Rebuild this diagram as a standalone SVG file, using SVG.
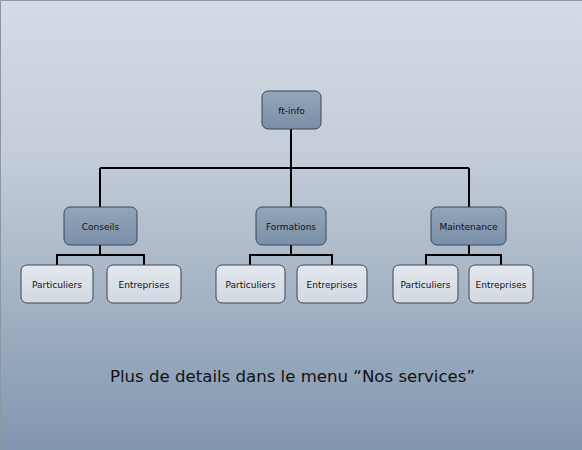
<svg xmlns="http://www.w3.org/2000/svg" width="582" height="450" viewBox="0 0 582 450">
<defs>
<linearGradient id="bg" x1="0" y1="0" x2="0" y2="1">
<stop offset="0" stop-color="#d4dbe4"/>
<stop offset="0.35" stop-color="#c3ccd8"/>
<stop offset="1" stop-color="#8196af"/>
</linearGradient>
<linearGradient id="dark" x1="0" y1="0" x2="0" y2="1">
<stop offset="0" stop-color="#93a5b9"/>
<stop offset="1" stop-color="#7a8fa8"/>
</linearGradient>
<linearGradient id="light" x1="0" y1="0" x2="0" y2="1">
<stop offset="0" stop-color="#e4e8ee"/>
<stop offset="1" stop-color="#d2d8e1"/>
</linearGradient>
</defs>
<style>
.d{fill:url(#dark);stroke:#3b4652;stroke-width:1}
.l{fill:url(#light);stroke:#3b4652;stroke-width:1}
.t{font-family:"DejaVu Sans",Verdana,sans-serif;font-size:9px;fill:#111;text-anchor:middle}
.c{fill:none;stroke:#000;stroke-width:2}
</style>
<rect x="0" y="0" width="582" height="450" fill="url(#bg)"/>
<path d="M0.5 450 V0.5 H582" fill="none" stroke="#8c97a4" stroke-width="1"/>
<g id="connectors">
<path class="c" d="M291 129 V168 M100 168 H469 M100 168 V207 M291 168 V207 M469 168 V207"/>
<path class="c" d="M100 245 V255 M57 265 V255 H144 V265"/>
<path class="c" d="M291 245 V255 M250 265 V255 H332 V265"/>
<path class="c" d="M469 245 V255 M426 265 V255 H501 V265"/>
</g>
<g id="ft-info"><rect class="d" x="262" y="91" width="59" height="38" rx="6"/><text class="t" x="291.5" y="113.5">ft-info</text></g>
<g id="conseils"><rect class="d" x="64" y="207" width="73" height="38" rx="6"/><text class="t" x="100.5" y="229.5">Conseils</text></g>
<g id="formations"><rect class="d" x="256" y="207" width="70" height="38" rx="6"/><text class="t" x="291" y="229.5">Formations</text></g>
<g id="maintenance"><rect class="d" x="431" y="207" width="75" height="38" rx="6"/><text class="t" x="468.5" y="229.5">Maintenance</text></g>
<g id="c-particuliers"><rect class="l" x="21" y="265" width="72" height="38" rx="6"/><text class="t" x="57" y="287.5">Particuliers</text></g>
<g id="c-entreprises"><rect class="l" x="107" y="265" width="74" height="38" rx="6"/><text class="t" x="144" y="287.5">Entreprises</text></g>
<g id="f-particuliers"><rect class="l" x="216" y="265" width="69" height="38" rx="6"/><text class="t" x="250.5" y="287.5">Particuliers</text></g>
<g id="f-entreprises"><rect class="l" x="297" y="265" width="70" height="38" rx="6"/><text class="t" x="332" y="287.5">Entreprises</text></g>
<g id="m-particuliers"><rect class="l" x="393" y="265" width="65" height="38" rx="6"/><text class="t" x="425.5" y="287.5">Particuliers</text></g>
<g id="m-entreprises"><rect class="l" x="469" y="265" width="64" height="38" rx="6"/><text class="t" x="501" y="287.5">Entreprises</text></g>
<text x="110" y="382" font-family="'DejaVu Sans',Verdana,sans-serif" font-size="16" fill="#111" textLength="365" lengthAdjust="spacingAndGlyphs">Plus de details dans le menu “Nos services”</text>
</svg>
